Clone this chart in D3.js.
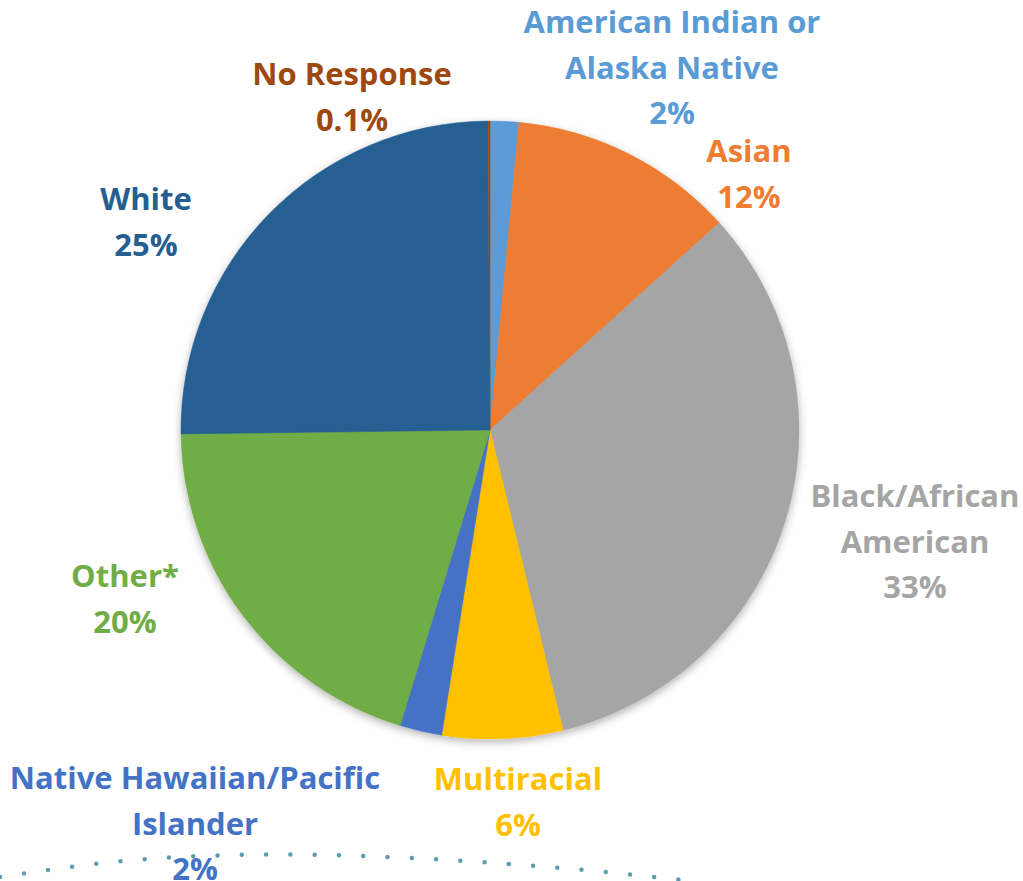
<!DOCTYPE html>
<html>
<head>
<meta charset="utf-8">
<script src="https://cdn.jsdelivr.net/npm/d3@7"></script>
<style>
  html, body { margin: 0; padding: 0; background: #fff; }
  svg { display: block; }
  .lbl { font-family: "Open Sans", Lato, sans-serif; font-weight: 700; }
</style>
</head>
<body>
<div id="chart"></div>
<script>
// data, clockwise from 12 o'clock
var categories = ["American Indian or Alaska Native", "Asian", "Black/African American",
  "Multiracial", "Native Hawaiian/Pacific Islander", "Other*", "White", "No Response"];
var shares = [1.5, 11.8, 32.9, 6.3, 2.2, 20.1, 25.1, 0.1];
var pctLabels = ["2%", "12%", "33%", "6%", "2%", "20%", "25%", "0.1%"];
// how each category name is broken over lines
var nameLines = [
  ["American Indian or", "Alaska Native"],
  ["Asian"],
  ["Black/African", "American"],
  ["Multiracial"],
  ["Native Hawaiian/Pacific", "Islander"],
  ["Other*"],
  ["White"],
  ["No Response"]
];
var colors = ["#5B9BD5", "#ED7D31", "#A5A5A5", "#FFC000", "#4472C4", "#70AD47", "#255E91", "#9E480E"];

var svgWidth = 1023;
var svgHeight = 881;
var cx = 490, cy = 430, radius = 309;

// label anchors (center x, first baseline)
var labelPos = [
  [672, 33], [749, 162], [915, 507], [518, 790],
  [195, 789], [125, 587], [146, 210], [352, 85]
];
var lineHeight = 45.5;

var svg = d3.select("#chart")
  .append("svg")
  .attr("width", svgWidth)
  .attr("height", svgHeight);

var defs = svg.append("defs");
var shadow = defs.append("filter")
  .attr("id", "shadow")
  .attr("x", "-10%").attr("y", "-10%")
  .attr("width", "120%").attr("height", "120%");
shadow.append("feDropShadow")
  .attr("dx", 0)
  .attr("dy", 3)
  .attr("stdDeviation", 4)
  .attr("flood-color", "#000")
  .attr("flood-opacity", 0.3);

// decorative dotted curve along the bottom
var dotPts = [[0, 877], [100, 862], [200, 855], [300, 854], [400, 857], [500, 863], [600, 871], [700, 882]];
svg.append("path")
  .attr("d", d3.line().curve(d3.curveBasis)(dotPts))
  .attr("fill", "none")
  .attr("stroke", "#3E8C9E")
  .attr("stroke-width", 4.5)
  .attr("stroke-linecap", "round")
  .attr("stroke-dasharray", "0 24.3")
  .attr("opacity", 0.85);

var rows = categories.map(function(c, i) {
  return { name: c, value: shares[i], pct: pctLabels[i], lines: nameLines[i], color: colors[i], pos: labelPos[i] };
});

var pie = d3.pie()
  .sort(null)
  .value(d => d.value);

var arc = d3.arc()
  .innerRadius(0)
  .outerRadius(radius);

var pieGroup = svg.append("g")
  .attr("transform", `translate(${cx}, ${cy})`)
  .attr("filter", "url(#shadow)");

pieGroup.selectAll("path")
  .data(pie(rows))
  .enter()
  .append("path")
  .attr("d", arc)
  .attr("fill", d => d.data.color)
  .attr("stroke", d => d.data.color)
  .attr("stroke-width", 0.5);

// labels
var labels = svg.selectAll("text.lbl")
  .data(rows)
  .enter()
  .append("text")
  .attr("class", "lbl")
  .attr("text-anchor", "middle")
  .attr("font-size", 31)
  .attr("fill", d => d.color);

labels.each(function(d) {
  var t = d3.select(this);
  d.lines.concat([d.pct]).forEach(function(line, j) {
    t.append("tspan")
      .attr("x", d.pos[0])
      .attr("y", d.pos[1] + j * lineHeight)
      .text(line);
  });
});
</script>
</body>
</html>
